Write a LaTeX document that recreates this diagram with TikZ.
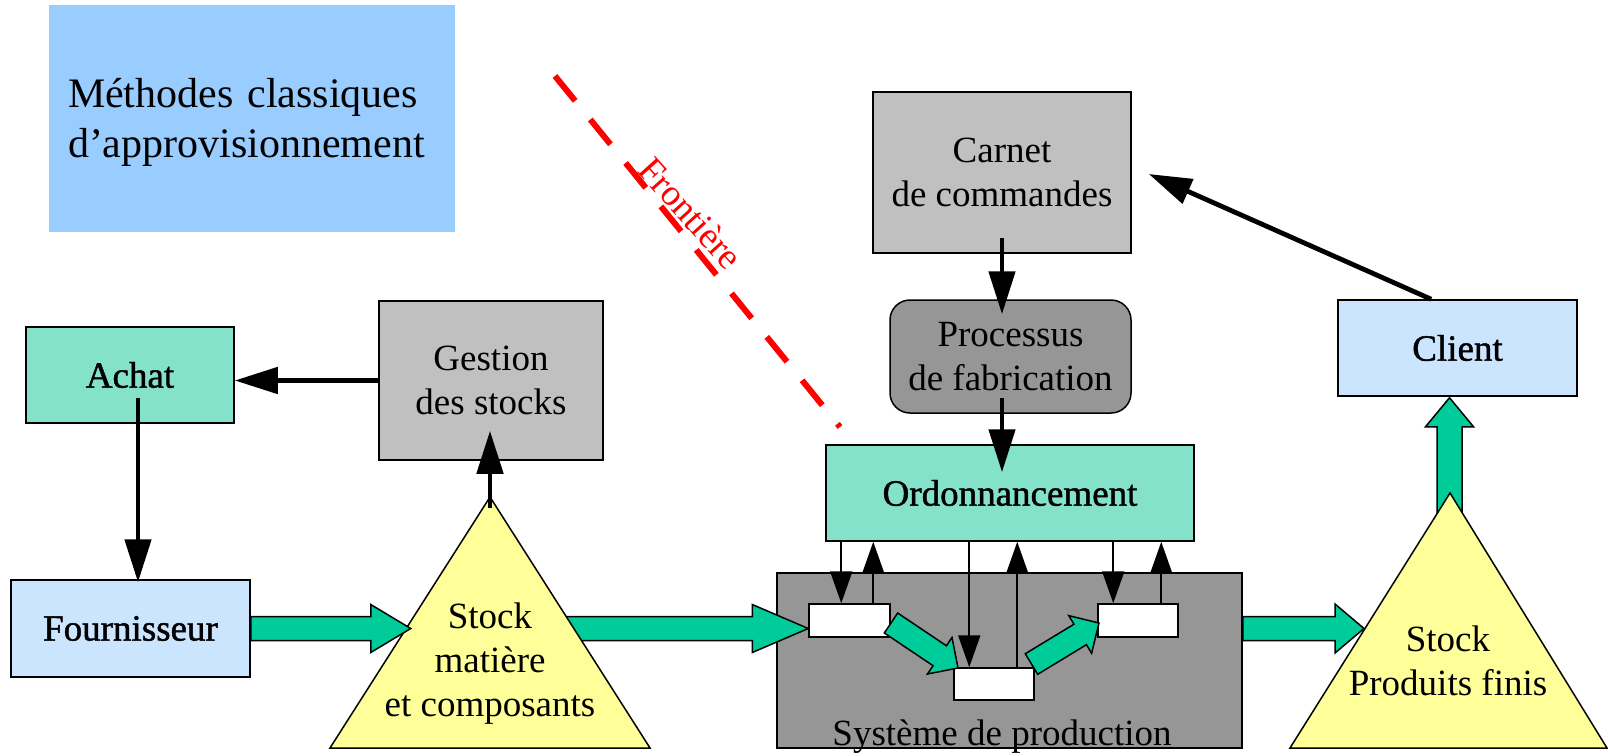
\documentclass[tikz,border=0pt]{standalone}
\usepackage{fontspec}
\setmainfont{Liberation Serif}
\newfontfamily\heavyfont[FakeBold=1.2]{Liberation Serif}
\usetikzlibrary{arrows.meta,calc}
\definecolor{titleblue}{HTML}{99CCFF}
\definecolor{aqua}{HTML}{84E2CA}
\definecolor{lightblue}{HTML}{CCE5FF}
\definecolor{lgray}{HTML}{C0C0C0}
\definecolor{dgray}{HTML}{969696}
\definecolor{flowgreen}{HTML}{00CC99}
\definecolor{stockyellow}{HTML}{FFFF99}
\newcommand\diagfont{\fontsize{37}{44}\selectfont}
\newcommand\heavydiag{\heavyfont\fontsize{37}{44}\selectfont}
\newcommand\titlefont{\fontsize{42}{50}\selectfont}
\newcommand\blockarrow[5]{%
  \path let \p1=(#1), \p2=(#2), \n1={atan2(\y2-\y1,\x2-\x1)}, \n2={veclen(\x2-\x1,\y2-\y1)} in
    \pgfextra{\xdef\baang{\n1}\xdef\balen{\n2}};
  \draw[flowarrow, shift={(#1)}, rotate=\baang]
    (0pt,#3) -- ({\balen*1pt-#5},#3) -- ({\balen*1pt-#5},#4) -- ({\balen*1pt},0pt)
    -- ({\balen*1pt-#5},-#4) -- ({\balen*1pt-#5},-#3) -- (0pt,-#3) -- cycle;
}
\tikzset{
  box/.style={draw=black, line width=1.5pt, rectangle, inner sep=0pt, align=center, font=\diagfont},
  heavybox/.style={box, font=\heavydiag},
  bigarrow/.style={line width=4.8pt, -{Triangle[length=43pt,width=26pt]}},
  smallarrow/.style={line width=2pt, -{Triangle[length=32pt,width=22pt]}},
  flowarrow/.style={draw=black, line width=1.5pt, fill=flowgreen, line join=miter},
  stocktri/.style={draw=black, line width=1.5pt, fill=stockyellow, line join=miter},
  frontline/.style={draw=red, line width=6pt, dash pattern=on 32pt off 24pt},
}
\begin{document}
\begin{tikzpicture}[x=1pt, y=-1pt]
\useasboundingbox (0,0) rectangle (1608,755);

% title
\node[fill=titleblue, minimum width=406pt, minimum height=227pt, text width=368pt,
      inner xsep=19pt, inner ysep=0pt, align=left, text depth=52pt, font=\titlefont]
      (title) at (252,118.5) {Méthodes classiques\\d’approvisionnement};

% frontier
\coordinate (fa) at (555,76);
\coordinate (fb) at (840,427);
\draw[frontline] (fa) -- (fb);
\node[rotate=-48, text=red, font=\diagfont, inner sep=0pt] (front) at (691,213) {Frontière};

% left boxes
\node[heavybox, fill=aqua, minimum width=208pt, minimum height=96pt] (achat) at (130,375) {Achat};
\node[box, fill=lgray, minimum width=224pt, minimum height=159pt] (gestion) at (491,380.5) {Gestion\\des stocks};
\node[heavybox, fill=lightblue, minimum width=239pt, minimum height=97pt] (four) at (130.5,628.5) {Fournisseur};

% top/middle boxes
\node[box, fill=lgray, minimum width=258pt, minimum height=161pt] (carnet) at (1002,172.5) {Carnet\\de commandes};
\node[box, fill=dgray, minimum width=241pt, minimum height=113pt, rounded corners=20pt] (proc) at (1010.5,356.5) {Processus\\de fabrication};
\node[heavybox, fill=aqua, minimum width=368pt, minimum height=96pt] (ordo) at (1010,493) {Ordonnancement};
\node[heavybox, fill=lightblue, minimum width=239pt, minimum height=96pt] (client) at (1457.5,348) {Client};

% production system
\node[box, fill=dgray, minimum width=465pt, minimum height=175pt] (sys) at (1009.5,660.5) {};
\node[font=\diagfont, anchor=base, inner sep=0pt] (systxt) at (1002,745) {Système de production};
\node[box, fill=white, minimum width=81pt, minimum height=33pt] (b1) at (849.5,620.5) {};
\node[box, fill=white, minimum width=80pt, minimum height=32pt] (b2) at (994,684) {};
\node[box, fill=white, minimum width=80pt, minimum height=33pt] (b3) at (1138,620.5) {};

% internal flow arrows
\coordinate (a5s) at (891,623);
\coordinate (a5e) at (958,668);
\coordinate (a6s) at (1031.5,664);
\coordinate (a6e) at (1099,623);
\blockarrow{a5s}{a5e}{12pt}{22pt}{22pt}
\blockarrow{a6s}{a6e}{12pt}{22pt}{22pt}

% thin arrows ordonnancement <-> postes
\draw[smallarrow] ($(ordo.south west)+(16,0)$) -- ($(b1.north west)+(33,0)$);
\draw[smallarrow] ($(b1.north west)+(65,0)$) -- ($(ordo.south west)+(48,0)$);
\draw[smallarrow] ($(ordo.south west)+(144,0)$) -- ($(b2.north west)+(16,0)$);
\draw[smallarrow] ($(b2.north west)+(64,0)$) -- ($(ordo.south west)+(192,0)$);
\draw[smallarrow] ($(ordo.south west)+(288,0)$) -- ($(b3.north west)+(16,0)$);
\draw[smallarrow] ($(b3.north west)+(64,0)$) -- ($(ordo.south west)+(336,0)$);

% stock matiere -> production
\coordinate (a2s) at (560,628.5);
\coordinate (a2e) at ($(b1.west)+(0,8)$);
\blockarrow{a2s}{a2e}{12pt}{24pt}{56pt}

% stock triangle 1
\coordinate (s1t) at (490,497);
\coordinate (s1l) at (330,748);
\coordinate (s1r) at (650,748);
\draw[stocktri] (s1t) -- (s1l) -- (s1r) -- cycle;
\node[font=\diagfont, align=center, inner sep=0pt] (stock1) at (490,663.4) {Stock\\matière\\et composants};

% fournisseur -> stock
\coordinate (a1s) at (four.east);
\coordinate (a1e) at ($(four.east)+(160,0)$);
\blockarrow{a1s}{a1e}{12pt}{24pt}{40pt}

% production -> stock PF, stock PF -> client
\coordinate (a3s) at ($(sys.east)+(0,-32)$);
\coordinate (a3e) at (1364,628.5);
\coordinate (a4s) at (1449.5,535);
\coordinate (a4e) at ($(client.south)+(-8,1)$);
\blockarrow{a4s}{a4e}{12.5pt}{24pt}{29pt}

\coordinate (s2t) at (1450,493);
\coordinate (s2l) at (1290,748);
\coordinate (s2r) at (1607,748);
\draw[stocktri] (s2t) -- (s2l) -- (s2r) -- cycle;
\node[font=\diagfont, align=center, inner sep=0pt] (stock2) at (1448,661.3) {Stock\\Produits finis};
\blockarrow{a3s}{a3e}{12pt}{24.5pt}{29pt}

% black information arrows
\draw[bigarrow] (gestion.west) -- (gestion.west -| achat.east);
\draw[bigarrow] ($(achat.south)+(8,-26)$) -- ($(four.north)+(7.5,3)$);
\draw[bigarrow] ($(s1t)+(0,11)$) -- ($(gestion.south)+(-1,-30)$);
\draw[bigarrow] ($(carnet.south)+(0,-16)$) -- ($(proc.north)+(-8.5,15)$);
\draw[bigarrow] ($(proc.south)+(-8.5,-16)$) -- ($(ordo.north)+(-8,28)$);
\draw[bigarrow] ($(client.north west)+(94,0)$) -- ($(carnet.east)+(17,1.5)$);
\end{tikzpicture}
\end{document}
